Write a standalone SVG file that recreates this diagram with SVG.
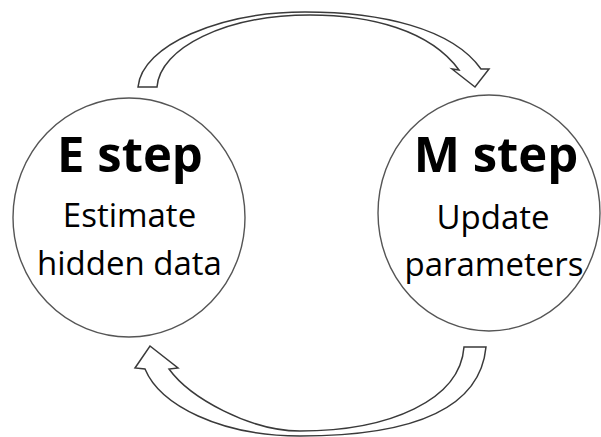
<svg xmlns="http://www.w3.org/2000/svg" width="601" height="437" viewBox="0 0 601 437">
  <style>
    .node-shape { fill: #ffffff; stroke: #555555; stroke-width: 1.4; }
    .title { font-family: "Open Sans", "Liberation Sans", sans-serif; font-weight: bold; font-size: 49px; fill: #000000; text-anchor: middle; }
    .sub { font-family: "Open Sans", "Liberation Sans", sans-serif; font-size: 33px; fill: #000000; text-anchor: middle; }
    .block-arrow { fill: #ffffff; stroke: #3a3a3a; stroke-width: 1.5; stroke-linejoin: miter; }
  </style>
  <rect width="601" height="437" fill="#ffffff"/>

  <!-- E step node -->
  <g id="e-step">
    <ellipse class="node-shape" cx="129" cy="217.5" rx="116" ry="119.5"/>
    <text class="title" x="130" y="172">E step</text>
    <text class="sub" x="129.5" y="227">Estimate</text>
    <text class="sub" x="129.5" y="275">hidden data</text>
  </g>

  <!-- M step node -->
  <g id="m-step">
    <ellipse class="node-shape" cx="489" cy="213" rx="111" ry="118"/>
    <text class="title" x="496" y="172">M step</text>
    <text class="sub" x="493" y="229">Update</text>
    <text class="sub" x="494" y="276">parameters</text>
  </g>

  <!-- curved block arrows between the two steps -->
  <g id="connectors">
    <path id="e-to-m" class="block-arrow"
          d="M138,87 C142,45 220,12 305,12 C380,12 452,28 481,69 L489,69 L475,87 L452,69 L459,70 C430,30 370,15 310,15 C225,15 160,48 157,87 Z"/>
    <path id="m-to-e" class="block-arrow"
          d="M486,347 C480,410 410,436 300,436 C220,436 160,405 145,369 L135,368 L150,346 L178,368 L169,369 C190,398 250,431 300,431 C390,431 460,400 464,347 Z"/>
  </g>
</svg>
